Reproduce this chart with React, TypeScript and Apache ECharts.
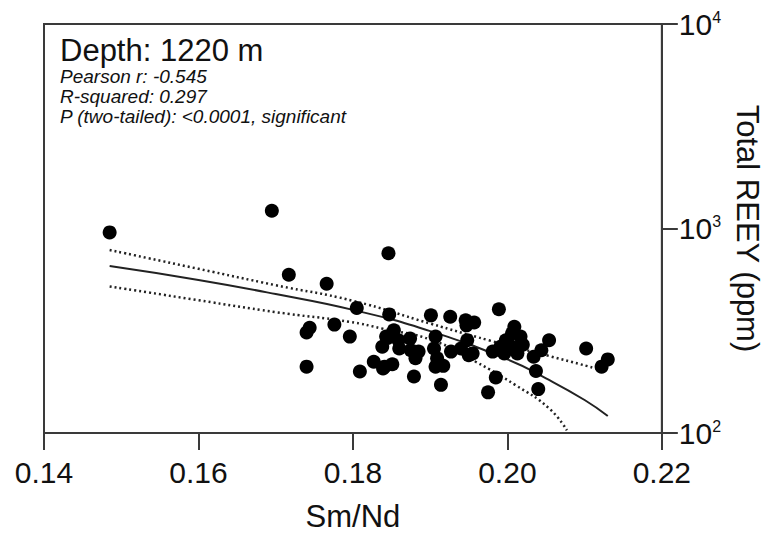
import React, { useEffect, useRef } from "react";
import * as echarts from "echarts";

const smNd = [
  0.1485, 0.1695, 0.1717, 0.1766, 0.1805, 0.1846, 0.1847, 0.1744, 0.174, 0.1776,
  0.1796, 0.174, 0.1809, 0.1827, 0.1838, 0.1839, 0.1843, 0.1901, 0.1926, 0.1946,
  0.1957, 0.1947, 0.1989, 0.2009, 0.2017, 0.2006, 0.1998, 0.1991, 0.1981, 0.1996,
  0.2013, 0.2006, 0.2054, 0.2044, 0.2034, 0.2037, 0.204, 0.1985, 0.1975, 0.2102,
  0.213, 0.2122, 0.1853, 0.1845, 0.1859, 0.186, 0.1874, 0.1875, 0.1881, 0.1841,
  0.1851, 0.1879, 0.1907, 0.1905, 0.1909, 0.1907, 0.1917, 0.1914, 0.1927, 0.194,
  0.1948, 0.195, 0.1955, 0.1885, 0.2, 0.202,
];
const reey = [
  957, 1222, 594, 537, 409, 757, 380, 327, 310, 339,
  296, 211, 200, 223, 264, 207, 296, 376, 370, 356,
  347, 336, 403, 331, 296, 307, 284, 264, 250, 245,
  245, 264, 284, 254, 236, 201, 164, 187, 158, 259,
  229, 211, 318, 292, 284, 259, 290, 254, 232, 211,
  217, 189, 296, 259, 232, 211, 213, 172, 250, 259,
  284, 240, 245, 250, 270, 270,
];

const fitX = [0.1485, 0.16, 0.17, 0.18, 0.19, 0.2, 0.205, 0.21, 0.213];
const fitY = [655, 560, 478, 400, 315, 229, 185, 145, 121];
const upperX = [0.1485, 0.16, 0.17, 0.18, 0.19, 0.1976, 0.2054, 0.2123];
const upperY = [785, 635, 528, 443, 343, 284, 238, 203];
const lowerX = [0.1485, 0.16, 0.17, 0.1795, 0.1838, 0.1903, 0.1959, 0.201, 0.2054, 0.2077];
const lowerY = [521, 446, 390, 350, 324, 284, 223, 172, 132, 103];

const xTicks = [0.14, 0.16, 0.18, 0.2, 0.22];

const titleText = "Depth: 1220 m";
const statLines = [
  "Pearson r: -0.545",
  "R-squared: 0.297",
  "P (two-tailed): <0.0001, significant",
];

const FONT = "'Liberation Sans', Arial, Helvetica, sans-serif";
const AXIS_COLOR = "#3a3a3a";

function pairs(xs: number[], ys: number[]) {
  return xs.map((x, i) => [x, ys[i]]);
}

export default function App() {
  const ref = useRef<HTMLDivElement>(null);
  useEffect(() => {
    if (!ref.current) return;
    const chart = echarts.init(ref.current, undefined, { renderer: "svg" });
    const option: any = {
      animation: false,
      backgroundColor: "#ffffff",
      grid: {
        left: 44,
        right: 108,
        top: 24,
        bottom: 102,
        show: true,
        borderColor: AXIS_COLOR,
        borderWidth: 2,
        backgroundColor: "transparent",
      },
      xAxis: {
        type: "value",
        min: 0.14,
        max: 0.22,
        interval: 0.02,
        position: "bottom",
        axisLine: { show: true, lineStyle: { color: AXIS_COLOR, width: 2 } },
        axisTick: { show: true, length: 17, lineStyle: { color: AXIS_COLOR, width: 2 } },
        splitLine: { show: false },
        axisLabel: {
          margin: 24,
          fontSize: 30,
          fontFamily: FONT,
          color: "#111",
          formatter: (v: number) => {
            const t = xTicks.find((k) => Math.abs(k - v) < 1e-9);
            return t !== undefined ? t.toFixed(2) : "";
          },
        },
        name: "Sm/Nd",
        nameLocation: "middle",
        nameGap: 68,
        nameTextStyle: { fontSize: 31, fontFamily: FONT, color: "#111" },
      },
      yAxis: {
        type: "log",
        logBase: 10,
        min: 100,
        max: 10000,
        position: "right",
        axisLine: { show: true, lineStyle: { color: AXIS_COLOR, width: 2 } },
        axisTick: { show: true, length: 16, lineStyle: { color: AXIS_COLOR, width: 2 } },
        minorTick: { show: false },
        splitLine: { show: false },
        axisLabel: {
          margin: 17,
          fontFamily: FONT,
          color: "#111",
          formatter: (v: number) => "{b|10}{s|" + Math.round(Math.log10(v)) + "}",
          rich: {
            b: { fontSize: 30, fontFamily: FONT, color: "#111", lineHeight: 30 },
            s: { fontSize: 16, fontFamily: FONT, color: "#111", verticalAlign: "top", lineHeight: 16 },
          },
        },
        name: "Total REEY (ppm)",
        nameLocation: "middle",
        nameGap: 70,
        nameRotate: -90,
        nameTextStyle: { fontSize: 31, fontFamily: FONT, color: "#111" },
      },
      graphic: [
        {
          type: "text",
          left: 60,
          top: 35,
          style: { text: titleText, fontSize: 31, fontFamily: FONT, fill: "#111" },
        },
        ...statLines.map((t, i) => ({
          type: "text",
          left: 60,
          top: 67 + i * 20,
          style: { text: t, fontSize: 19, fontStyle: "italic", fontFamily: FONT, fill: "#111" },
        })),
      ],
      series: [
        {
          type: "line",
          data: pairs(fitX, fitY),
          showSymbol: false,
          smooth: true,
          lineStyle: { color: "#222", width: 2 },
          z: 3,
        },
        {
          type: "line",
          data: pairs(upperX, upperY),
          showSymbol: false,
          smooth: true,
          lineStyle: { color: "#222", width: 2.5, type: [2, 3] },
          z: 3,
        },
        {
          type: "line",
          data: pairs(lowerX, lowerY),
          showSymbol: false,
          smooth: true,
          lineStyle: { color: "#222", width: 2.5, type: [2, 3] },
          z: 3,
        },
        {
          type: "scatter",
          data: pairs(smNd, reey),
          symbol: "circle",
          symbolSize: 14,
          itemStyle: { color: "#000", opacity: 1 },
          z: 4,
        },
      ],
    };
    chart.setOption(option);
    return () => chart.dispose();
  }, []);
  return (
    <div
      ref={ref}
      style={{ position: "fixed", left: 0, top: 0, width: 771, height: 537, background: "#fff" }}
    />
  );
}
